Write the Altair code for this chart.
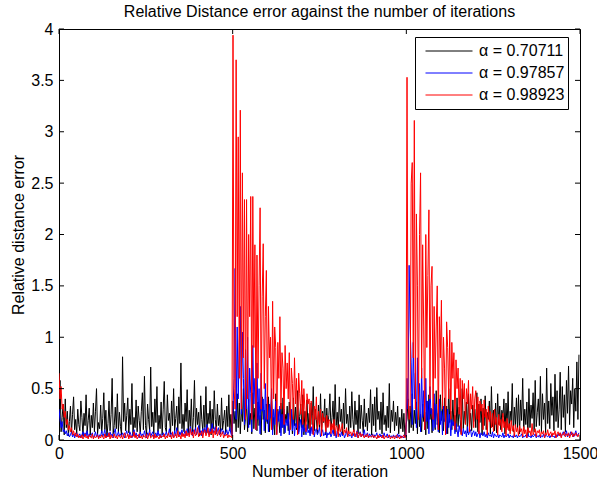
import altair as alt
import pandas as pd

# iteration index (sampled every 3 iterations); error values in hundredths
iterations = list(range(0, 1500, 3))

series_labels = ["α = 0.70711", "α = 0.97857", "α = 0.98923"]
series_colors = ["#000000", "#0000ff", "#ff0000"]

err_070711_pct = [
    30, 58, 8, 22, 35, 5, 40, 12, 28, 4, 18, 33, 7, 25, 42, 10, 20, 6, 30, 15,
    9, 38, 22, 4, 26, 14, 44, 7, 19, 31, 5, 24, 12, 36, 8, 28, 50, 6, 17, 11,
    34, 7, 21, 46, 10, 29, 3, 16, 38, 9, 25, 60, 6, 14, 32, 11, 45, 8, 27, 13,
    5, 81, 18, 36, 9, 24, 41, 7, 30, 15, 55, 4, 22, 12, 39, 8, 33, 19, 6, 28,
    46, 10, 62, 14, 5, 35, 20, 9, 71, 13, 27, 6, 40, 17, 52, 8, 24, 11, 37, 5,
    30, 57, 12, 8, 44, 19, 26, 6, 38, 14, 50, 9, 21, 33, 7, 42, 16, 75, 11, 25,
    8, 36, 18, 49, 6, 29, 13, 40, 5, 22, 58, 10, 31, 15, 27, 4, 43, 20, 9, 34,
    12, 52, 7, 26, 16, 38, 5, 30, 11, 48, 20, 8, 35, 14, 24, 6, 41, 10, 19, 29,
    7, 33, 13, 44, 9, 25, 5, 38, 16, 28, 8, 45, 12, 36, 6, 30, 18, 50, 10, 22,
    34, 8, 40, 15, 26, 6, 46, 11, 31, 18, 9, 37, 14, 24, 5, 42, 20, 29, 7, 35,
    16, 42, 8, 27, 38, 10, 22, 5, 45, 13, 30, 19, 7, 36, 12, 41, 6, 25, 17, 33,
    9, 37, 20, 29, 6, 41, 14, 32, 10, 48, 8, 23, 35, 12, 44, 5, 28, 18, 39, 11,
    26, 7, 36, 15, 52, 9, 30, 20, 6, 34, 12, 45, 8, 28, 17, 40, 5, 31, 13, 24,
    45, 10, 22, 38, 6, 54, 14, 27, 9, 42, 18, 30, 5, 36, 11, 50, 16, 25, 8, 33,
    12, 47, 20, 8, 38, 15, 29, 6, 44, 11, 34, 19, 7, 40, 13, 26, 9, 31, 17, 49,
    5, 35, 14, 42, 8, 51, 20, 28, 10, 37, 6, 46, 15, 24, 9, 33, 12, 55, 7, 29,
    18, 38, 9, 27, 14, 33, 6, 22, 11, 30, 8, 26, 4, 15, 20, 40, 7, 33, 12, 45,
    9, 29, 16, 37, 6, 42, 13, 25, 8, 35, 18, 27, 5, 38, 11, 44, 20, 31, 7, 24,
    36, 10, 48, 15, 26, 7, 44, 19, 30, 9, 41, 12, 33, 6, 50, 17, 28, 10, 39, 14,
    24, 8, 41, 13, 32, 20, 6, 50, 11, 28, 16, 37, 7, 45, 14, 26, 9, 34, 18, 30,
    12, 46, 8, 35, 17, 40, 5, 31, 14, 43, 10, 27, 20, 38, 6, 52, 13, 29, 9, 36,
    7, 45, 15, 33, 10, 29, 22, 40, 6, 36, 12, 47, 9, 28, 18, 55, 8, 32, 14, 41,
    11, 44, 6, 39, 19, 60, 9, 30, 15, 37, 5, 50, 12, 34, 21, 46, 8, 58, 13, 27,
    40, 14, 62, 8, 45, 20, 36, 7, 70, 16, 38, 11, 55, 24, 42, 9, 64, 18, 48, 12,
    30, 66, 10, 52, 22, 44, 8, 58, 26, 72, 15, 48, 35, 60, 12, 50, 28, 76, 20, 83,
]

err_097857_pct = [
    30, 20, 12, 18, 8, 10, 6, 9, 4, 7, 3, 5, 8, 3, 6, 2, 5, 7, 3, 4,
    6, 2, 5, 8, 3, 7, 4, 9, 2, 6, 3, 5, 7, 2, 4, 8, 3, 6, 2, 5,
    4, 9, 3, 6, 10, 2, 5, 7, 3, 8, 4, 6, 2, 7, 11, 3, 5, 8, 4, 6,
    3, 7, 5, 2, 6, 9, 4, 3, 8, 5, 2, 6, 10, 3, 7, 4, 5, 2, 8, 4,
    6, 3, 9, 5, 2, 7, 4, 10, 3, 6, 8, 2, 5, 7, 3, 9, 4, 6, 2, 5,
    7, 3, 5, 8, 4, 6, 11, 3, 7, 5, 2, 9, 4, 12, 6, 3, 8, 5, 10, 4,
    6, 9, 4, 11, 7, 5, 13, 8, 4, 10, 6, 12, 5, 8, 14, 6, 9, 4, 11, 7,
    12, 6, 15, 9, 5, 11, 8, 16, 7, 10, 13, 6, 9, 12, 5, 8, 11, 6, 9, 4,
    7, 10, 5, 8, 12, 6, 4, 30, 60, 167, 20, 110, 40, 95, 130, 25, 105, 60, 15, 88,
    30, 100, 12, 70, 45, 8, 92, 35, 60, 10, 75, 20, 50, 6, 65, 28, 40, 9, 55, 18,
    42, 8, 35, 22, 50, 5, 30, 15, 38, 6, 28, 18, 33, 4, 25, 12, 30, 7, 20, 14,
    26, 5, 18, 30, 9, 22, 4, 16, 12, 24, 6, 14, 20, 3, 17, 8, 12, 5, 15, 7,
    10, 4, 13, 6, 16, 3, 9, 11, 5, 8, 12, 3, 7, 10, 4, 6, 9, 2, 7, 5,
    8, 3, 6, 10, 4, 7, 2, 9, 5, 6, 3, 8, 4, 7, 2, 5, 9, 3, 6, 4,
    5, 2, 7, 4, 6, 3, 9, 2, 5, 8, 3, 6, 4, 10, 3, 5, 7, 2, 6, 4,
    3, 6, 2, 5, 4, 7, 2, 4, 6, 3, 5, 2, 7, 3, 4, 6, 2, 5, 3, 4,
    2, 5, 3, 4, 2, 6, 3, 5, 2, 4, 3, 2, 5, 3, 60, 30, 170, 110, 75, 15,
    95, 40, 65, 12, 80, 30, 55, 8, 70, 22, 48, 10, 60, 18, 38, 6, 52, 25, 30, 9,
    45, 12, 35, 20, 8, 40, 15, 28, 5, 33, 18, 22, 6, 30, 12, 25, 4, 20, 14, 18,
    6, 16, 10, 3, 14, 8, 12, 4, 11, 6, 9, 3, 13, 5, 8, 10, 3, 7, 9, 4,
    8, 3, 6, 9, 2, 7, 5, 4, 8, 3, 6, 2, 7, 4, 5, 3, 8, 2, 6, 4,
    3, 6, 2, 5, 4, 3, 7, 2, 5, 3, 4, 6, 2, 5, 3, 4, 2, 6, 3, 5,
    2, 5, 3, 4, 6, 2, 4, 3, 5, 2, 6, 3, 4, 2, 5, 3, 4, 6, 2, 4,
    3, 5, 2, 4, 3, 6, 2, 5, 4, 3, 5, 2, 4, 6, 3, 4, 2, 5, 3, 6,
    4, 7, 3, 6, 8, 4, 5, 9, 3, 6, 4, 8, 5, 7, 3, 6, 9, 4, 5, 7,
]

err_098923_pct = [
    65, 40, 52, 30, 35, 22, 28, 15, 20, 10, 14, 8, 12, 5, 9, 4, 7, 3, 6, 2,
    4, 2, 5, 1, 3, 6, 2, 4, 1, 5, 3, 2, 6, 1, 4, 2, 3, 5, 1, 4,
    2, 5, 3, 1, 6, 2, 4, 3, 7, 1, 5, 2, 3, 6, 2, 4, 1, 5, 3, 2,
    5, 1, 4, 7, 2, 3, 6, 1, 5, 2, 4, 3, 8, 2, 5, 1, 3, 6, 2, 4,
    1, 5, 3, 2, 6, 1, 4, 7, 2, 3, 5, 1, 6, 2, 4, 3, 1, 5, 2, 4,
    3, 6, 1, 4, 2, 7, 3, 5, 1, 8, 2, 4, 6, 2, 9, 3, 5, 1, 7, 3,
    6, 2, 9, 4, 7, 3, 11, 5, 8, 2, 10, 4, 6, 12, 3, 7, 5, 9, 2, 8,
    10, 4, 7, 12, 3, 8, 6, 11, 2, 9, 5, 13, 4, 7, 10, 3, 6, 8, 2, 5,
    4, 6, 2, 5, 3, 4, 2, 394, 50, 30, 370, 120, 295, 60, 321, 30, 260, 80, 234, 20,
    234, 40, 200, 120, 237, 20, 237, 90, 190, 10, 180, 60, 150, 226, 30, 140, 191, 50, 120, 165,
    20, 130, 80, 100, 10, 135, 40, 110, 90, 5, 95, 60, 120, 30, 85, 70, 15, 92, 50, 75,
    40, 85, 10, 70, 55, 20, 80, 35, 60, 5, 65, 45, 25, 58, 15, 50, 30, 8, 45, 35,
    40, 12, 38, 25, 5, 33, 20, 42, 10, 28, 15, 30, 4, 26, 18, 22, 8, 24, 12, 20,
    18, 6, 16, 10, 20, 4, 14, 12, 3, 15, 8, 11, 16, 5, 10, 7, 12, 3, 9, 6,
    8, 4, 7, 10, 3, 6, 8, 2, 5, 7, 3, 6, 4, 2, 5, 3, 6, 2, 4, 3,
    3, 5, 2, 4, 3, 1, 5, 2, 4, 3, 2, 5, 1, 3, 4, 2, 3, 5, 1, 3,
    2, 4, 1, 3, 5, 2, 3, 1, 4, 2, 3, 5, 2, 4, 353, 40, 20, 30, 250, 270,
    80, 311, 30, 220, 150, 20, 200, 260, 60, 190, 110, 10, 200, 90, 160, 224, 40, 150, 169, 20,
    130, 60, 110, 150, 10, 120, 80, 136, 30, 100, 70, 5, 115, 90, 40, 107, 20, 95, 60, 85,
    10, 78, 50, 70, 25, 60, 5, 58, 40, 55, 15, 50, 35, 58, 8, 45, 30, 52, 12, 40,
    48, 20, 42, 6, 38, 28, 35, 10, 39, 22, 30, 5, 33, 18, 28, 12, 26, 8, 30, 15,
    22, 5, 25, 14, 20, 8, 26, 12, 18, 4, 21, 10, 16, 6, 19, 9, 14, 3, 15, 8,
    12, 4, 14, 8, 11, 3, 13, 6, 10, 2, 12, 7, 9, 4, 16, 5, 8, 11, 3, 9,
    7, 10, 3, 8, 6, 9, 2, 7, 5, 10, 4, 6, 8, 3, 7, 5, 9, 2, 6, 8,
    4, 7, 2, 6, 5, 8, 3, 6, 4, 7, 2, 5, 8, 3, 6, 4, 7, 5, 3, 6,
]

x_ticks = [0, 500, 1000, 1500]
y_ticks = [0, 0.5, 1, 1.5, 2, 2.5, 3, 3.5, 4]

W, H = 521, 411
FONT = "Liberation Sans"

frames = []
for label, vals in zip(series_labels, [err_070711_pct, err_097857_pct, err_098923_pct]):
    n = min(len(iterations), len(vals))
    frames.append(pd.DataFrame({
        "iteration": iterations[:n],
        "error": [v / 100 for v in vals[:n]],
        "series": label,
    }))
df = pd.concat(frames, ignore_index=True)

xs = alt.Scale(domain=[0, 1500], nice=False, zero=False)
ys = alt.Scale(domain=[0, 4], nice=False)

x_axis = alt.Axis(title="Number of iteration", values=x_ticks, format="d", labelPadding=5,
                  titlePadding=2, ticks=False, domain=False, grid=False,
                  labelFlush=False, labelOverlap=False, labelBound=False)
y_axis = alt.Axis(title="Relative distance error", values=y_ticks, format="~g", labelPadding=6,
                  titlePadding=4, ticks=False, domain=False, grid=False,
                  labelFlush=False, labelOverlap=False, labelBound=False)

color = alt.Color(
    "series:N",
    scale=alt.Scale(domain=series_labels, range=series_colors),
    legend=alt.Legend(
        title=None, orient="none", legendX=356, legendY=8,
        symbolType="stroke", symbolSize=2209, symbolStrokeWidth=1,
        clipHeight=22, rowPadding=0, padding=3, symbolOffset=7, labelOffset=6,
        strokeColor="black", fillColor="white", labelFontSize=16, labelFont=FONT,
        labelColor="black", cornerRadius=0,
    ),
)

layers = []
for label in series_labels:
    layers.append(
        alt.Chart(df)
        .transform_filter(alt.datum.series == label)
        .mark_line(strokeWidth=1, clip=True)
        .encode(
            x=alt.X("iteration:Q", scale=xs, axis=x_axis),
            y=alt.Y("error:Q", scale=ys, axis=y_axis),
            color=color,
            order=alt.Order("iteration:Q"),
        )
    )

xt = pd.DataFrame({"t": x_ticks})
yt = pd.DataFrame({"t": y_ticks})
tick_len = 5
ticks_bottom = alt.Chart(xt).mark_rule(color="black", strokeWidth=1).encode(
    x=alt.X("t:Q", scale=xs, axis=x_axis), y=alt.value(H), y2=alt.value(H - tick_len))
ticks_top = alt.Chart(xt).mark_rule(color="black", strokeWidth=1).encode(
    x=alt.X("t:Q", scale=xs, axis=x_axis), y=alt.value(0), y2=alt.value(tick_len))
ticks_left = alt.Chart(yt).mark_rule(color="black", strokeWidth=1).encode(
    y=alt.Y("t:Q", scale=ys, axis=y_axis), x=alt.value(0), x2=alt.value(tick_len))
ticks_right = alt.Chart(yt).mark_rule(color="black", strokeWidth=1).encode(
    y=alt.Y("t:Q", scale=ys, axis=y_axis), x=alt.value(W), x2=alt.value(W - tick_len))

chart = (
    alt.layer(*layers, ticks_bottom, ticks_top, ticks_left, ticks_right)
    .properties(
        width=W, height=H,
        title=alt.TitleParams(
            "Relative Distance error against the number of iterations",
            font=FONT, fontSize=16, fontWeight="normal", color="black",
            anchor="middle", offset=1,
        ),
        autosize=alt.AutoSizeParams(type="none"),
        padding={"left": 59, "top": 29, "right": 17, "bottom": 44},
    )
    .configure_view(stroke="black", strokeWidth=1)
    .configure_axis(
        labelFont=FONT, labelFontSize=16, labelColor="black",
        titleFont=FONT, titleFontSize=16, titleFontWeight="normal", titleColor="black",
    )
)

chart.save("out.html", embed_options={"renderer": "svg", "actions": False})
